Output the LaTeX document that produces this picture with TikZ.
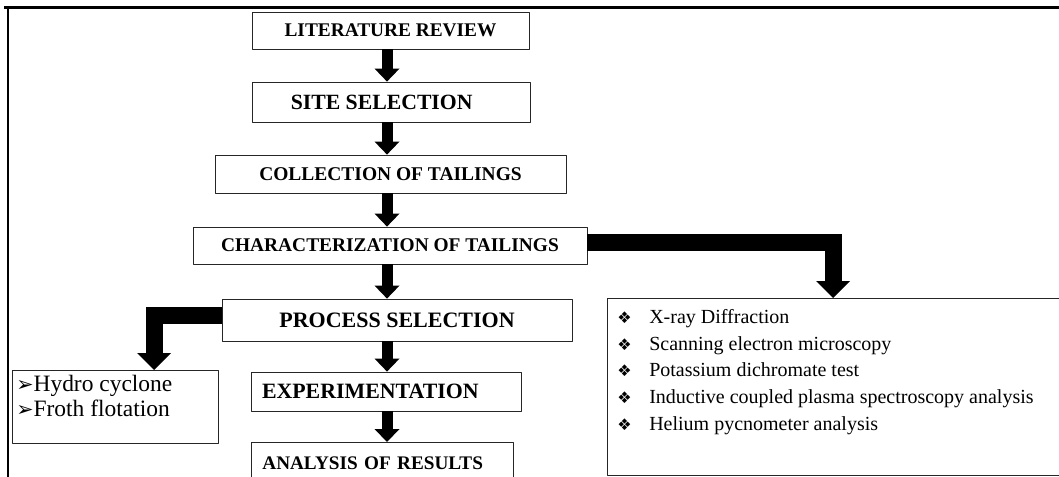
\documentclass[tikz,border=0pt]{standalone}
\usepackage{fontspec}
\setmainfont{Liberation Serif}
\newfontfamily\symfont{DejaVu Sans}
\usepackage{tikz}
\usetikzlibrary{calc}
\usetikzlibrary{arrows.meta}
\tikzset{stage/.style={draw=black!85,line width=0.6pt,inner sep=0pt,align=center,font=\bfseries}}
\tikzset{flowarrow/.style={line width=8.25pt,line cap=butt,-{Triangle[length=9.75pt,width=18.75pt,line width=0pt]}}}
\tikzset{bigarrow/.style={line width=12.75pt,line cap=butt,line join=miter,-{Triangle[length=12.75pt,width=25.5pt,line width=0pt]}}}
\newcommand{\boxfont}[1]{\bfseries\fontsize{#1}{#1}\selectfont}
\newcommand{\testitem}[1]{\makebox[24pt][l]{\symfont\fontsize{12}{12}\selectfont ❖}#1}
\newcommand{\stepitem}[1]{{\symfont\fontsize{15.5}{15.5}\selectfont ➢}#1}

\begin{document}
\begin{tikzpicture}[line cap=round,line join=round,x=0.75pt,y=-0.75pt]
            \path[use as bounding box,clip] (0,0) rectangle (1059,477);
            \draw [line width=2.25pt,line cap=butt] (4,7.5) -- (1059,7.5);
            \draw [line width=1.5pt,line cap=butt] (7.5,7.5) -- (7.5,477);
            \coordinate (spine) at (387,0);
            \node [stage,minimum width=207.75pt,minimum height=27.75pt,font=\boxfont{14.5}] (lit) at (390.5,30.5) {LITERATURE REVIEW};
            \node [stage,minimum width=208.5pt,minimum height=30pt,font=\boxfont{16.3}] (site) at (391,102) {SITE SELECTION\hspace*{14pt}};
            \node [stage,minimum width=263.25pt,minimum height=28.5pt,font=\boxfont{14.6}] (coll) at (390.5,174) {COLLECTION OF TAILINGS};
            \node [stage,minimum width=295.5pt,minimum height=27.75pt,font=\boxfont{14.55}] (char) at (390,245.5) {CHARACTERIZATION OF TAILINGS};
            \node [stage,minimum width=262.5pt,minimum height=31.5pt,font=\boxfont{16.5}] (proc) at (397,320) {PROCESS SELECTION};
            \node [stage,minimum width=202.5pt,minimum height=29.25pt,text width=186pt,inner xsep=8.25pt,align=left,font=\boxfont{16.4}] (expt) at (386,391.5) {EXPERIMENTATION};
            \node [stage,minimum width=196.5pt,text width=180pt,inner xsep=8.25pt,align=left,font=\boxfont{14.4},anchor=north west] (res) at (251,442) {\rule{0pt}{20pt}ANALYSIS OF RESULTS\rule[-30pt]{0pt}{30pt}};
            \node [stage,minimum width=154.5pt,minimum height=54.75pt,anchor=north west] (hydro) at (12,370) {};
            \node [anchor=north west,inner sep=0pt,align=left,font=\fontsize{17.6}{18.75}\selectfont] (hydrotext) at (16,375) {\stepitem{Hydro cyclone}\\\stepitem{Froth flotation}};
            \node [stage,minimum width=420pt,minimum height=132.75pt,anchor=north west] (tests) at (607,298) {};
            \node [anchor=north west,inner sep=0pt,align=left,font=\fontsize{15}{20}\selectfont] (teststext) at (617,309) {\testitem{X-ray Diffraction}\\\testitem{Scanning electron microscopy}\\\testitem{Potassium dichromate test}\\\testitem{Inductive coupled plasma spectroscopy analysis}\\\testitem{Helium pycnometer analysis}};
            \draw [flowarrow] (lit.south -| spine) -- (site.north -| spine);
            \draw [flowarrow] (site.south -| spine) -- (coll.north -| spine);
            \draw [flowarrow] (coll.south -| spine) -- (char.north -| spine);
            \draw [flowarrow] (char.south -| spine) -- (proc.north -| spine);
            \draw [flowarrow] (proc.south -| spine) -- (expt.north -| spine);
            \draw [flowarrow] (expt.south -| spine) -- (res.north -| spine);
            \draw [bigarrow] ([yshift=1.9pt]char.east) -| ($(tests.north west)+(226,0)$);
            \draw [bigarrow] ([yshift=3.75pt]proc.west) -| ($(hydro.north west)+(142,0)$);
\end{tikzpicture}
\end{document}
